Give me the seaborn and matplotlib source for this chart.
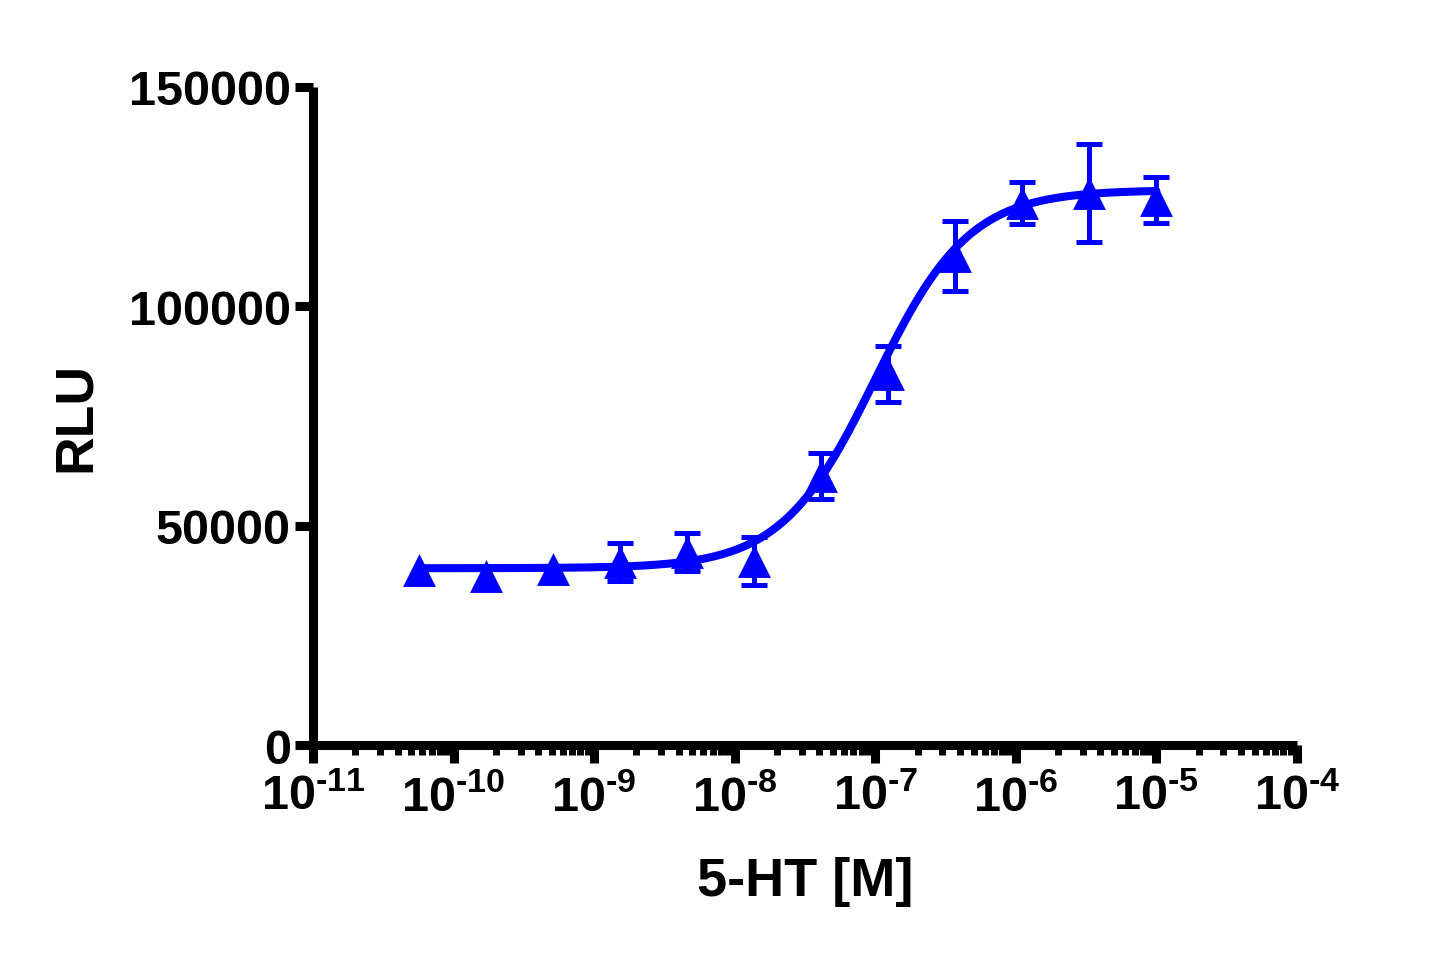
import numpy as np
import matplotlib
matplotlib.use("Agg")
import matplotlib.pyplot as plt
import matplotlib.ticker as mticker
import seaborn as sns

# 5-HT concentration-response (3-fold dilutions), mean +/- SEM
concentration_m = [5.65e-11, 1.69e-10, 5.08e-10, 1.52e-9, 4.57e-9, 1.37e-8,
                   4.12e-8, 1.23e-7, 3.70e-7, 1.11e-6, 3.33e-6, 1.0e-5]
rlu_mean = [39900, 38600, 40100, 41700, 44000, 42000,
            61300, 84600, 111500, 123500, 125800, 124200]
# first three error bars are hidden behind the symbols
rlu_sem = [np.nan, np.nan, np.nan, 4300, 4300, 5500,
           5200, 6400, 8000, 4800, 11200, 5200]

# 4-parameter logistic fit
fit_bottom = 40300
fit_top = 126500
fit_log_ec50 = -7.0
fit_hill = 1.3

x_tick_exponents = [-11, -10, -9, -8, -7, -6, -5, -4]
y_ticks = [0, 50000, 100000, 150000]

BLUE = "#0000FF"

sns.set_style("ticks")
plt.rcParams["font.family"] = ["Liberation Sans", "DejaVu Sans"]
plt.rcParams["font.weight"] = "bold"
plt.rcParams["mathtext.fontset"] = "custom"
plt.rcParams["mathtext.rm"] = "Liberation Sans:bold"
plt.rcParams["mathtext.bf"] = "Liberation Sans:bold"
plt.rcParams["mathtext.default"] = "bf"
for key in ["text.color", "axes.labelcolor", "xtick.color", "ytick.color", "axes.edgecolor"]:
    plt.rcParams[key] = "black"

fig = plt.figure(figsize=(14.47, 9.54), dpi=100)
ax = fig.add_axes([0.2163, 0.218, 0.68, 0.6898])

# fitted curve
log_x = np.linspace(np.log10(concentration_m[0]), np.log10(concentration_m[-1]), 300)
curve_x = 10 ** log_x
curve_y = fit_bottom + (fit_top - fit_bottom) / (1 + 10 ** ((fit_log_ec50 - log_x) * fit_hill))
sns.lineplot(x=curve_x, y=curve_y, color=BLUE, linewidth=5.8, ax=ax, zorder=3)

# error bars + markers
ax.errorbar(concentration_m, rlu_mean, yerr=rlu_sem, fmt="none", ecolor=BLUE,
            elinewidth=3.6, capsize=9.7, capthick=3.6, zorder=2)
sns.scatterplot(x=concentration_m, y=rlu_mean, marker="^", s=560, color=BLUE,
                linewidth=0, ax=ax, zorder=4)

ax.set_xscale("log")
ax.set_xlim(1e-11, 1e-4)
ax.set_ylim(0, 150000)

ax.xaxis.set_major_locator(mticker.FixedLocator([10.0 ** e for e in x_tick_exponents]))
ax.xaxis.set_minor_locator(mticker.LogLocator(base=10, subs=np.arange(2, 10), numticks=100))
ax.xaxis.set_minor_formatter(mticker.NullFormatter())
ax.set_xticklabels([r"$\mathbf{10^{\text{-}%d}}$" % abs(e) for e in x_tick_exponents])
ax.set_yticks(y_ticks)
ax.set_yticklabels([str(v) for v in y_ticks])

for side in ["top", "right"]:
    ax.spines[side].set_visible(False)
for side in ["left", "bottom"]:
    ax.spines[side].set_linewidth(6.5)
    ax.spines[side].set_capstyle("butt")

ax.tick_params(axis="both", which="major", length=13, width=6.5, labelsize=35,
               color="black", labelcolor="black")
ax.tick_params(axis="x", which="major", pad=8)
ax.tick_params(axis="y", which="major", pad=3)
ax.tick_params(axis="x", which="minor", length=7.5, width=5, color="black")

ax.set_xlabel("5-HT [M]", fontsize=39, fontweight="bold", labelpad=26)
ax.set_ylabel("RLU", fontsize=38.5, fontweight="bold", labelpad=20)

for lbl in ax.get_xticklabels() + ax.get_yticklabels():
    lbl.set_fontweight("bold")

fig.savefig("out.png", dpi=100)
